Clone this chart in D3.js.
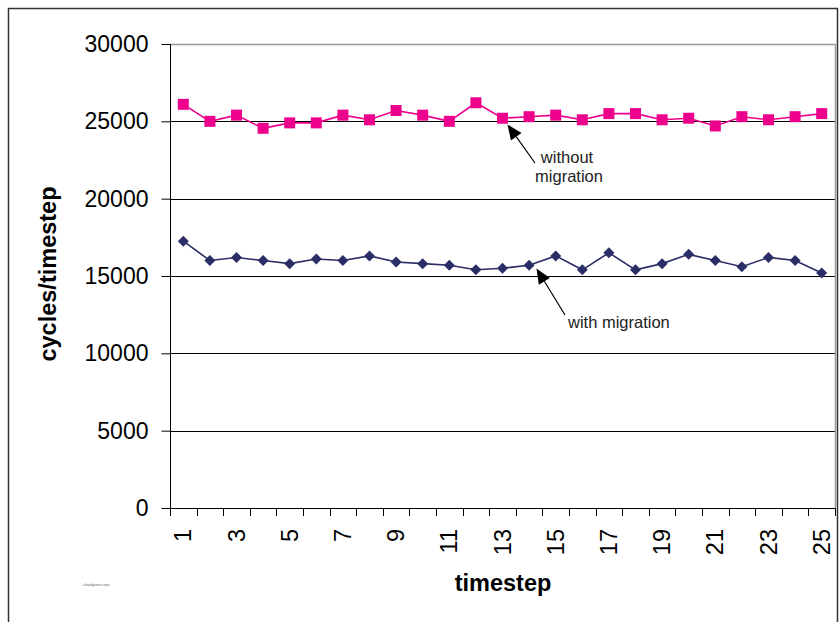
<!DOCTYPE html>
<html>
<head>
<meta charset="utf-8">
<script src="https://cdn.jsdelivr.net/npm/d3@7"></script>
<style>
  html, body { margin: 0; padding: 0; background: #fff; }
  svg { display: block; font-family: Arial, "Liberation Sans", sans-serif; }
</style>
</head>
<body>
<svg id="chart" width="840" height="622"></svg>
<script>
const timesteps = d3.range(1, 26);
const withoutMigration = [26100, 25000, 25400, 24550, 24900, 24900, 25400, 25100, 25700, 25400, 25000, 26200,
  25200, 25300, 25400, 25100, 25500, 25500, 25100, 25200, 24700, 25300, 25100, 25300, 25500];
const withMigration = [17250, 16000, 16200, 16000, 15800, 16100, 16000, 16300, 15900, 15800, 15700, 15400,
  15500, 15700, 16300, 15400, 16500, 15400, 15800, 16400, 16000, 15600, 16200, 16000, 15200];
const yTicks = [0, 5000, 10000, 15000, 20000, 25000, 30000];
const xTickLabels = [1, 3, 5, 7, 9, 11, 13, 15, 17, 19, 21, 23, 25];

const svg = d3.select("#chart");
const L = 170, R = 835, T = 44, B = 508;

const x = d3.scaleBand().domain(timesteps).range([L, R]).padding(0);
const y = d3.scaleLinear().domain([0, 30000]).range([B, T]);
const cx = d => x(d) + x.bandwidth() / 2;

// outer frame
svg.append("rect").attr("x", 8.5).attr("y", 8.5).attr("width", 829).attr("height", 640)
  .attr("fill", "none").attr("stroke", "#333").attr("stroke-width", 1.5);

// gridlines
svg.append("g").selectAll("line").data(yTicks.filter(v => v > 0 && v < 30000)).join("line")
  .attr("x1", L).attr("x2", R).attr("y1", d => Math.round(y(d)) + 0.5).attr("y2", d => Math.round(y(d)) + 0.5)
  .attr("stroke", "#000").attr("stroke-width", 1);

// top & right border (gray)
svg.append("path")
  .attr("d", `M${L},${T + 0.5}H${R + 0.5}V${B}`)
  .attr("fill", "none").attr("stroke", "#999").attr("stroke-width", 1.5);

// y axis
const yAxis = d3.axisLeft(y).tickValues(yTicks).tickSize(9).tickPadding(13).tickFormat(d3.format("d"));
const gy = svg.append("g").attr("transform", `translate(${L + 0.5},0)`).call(yAxis);
gy.select(".domain").attr("d", `M0,${T}V${B + 8}`).attr("stroke", "#000");
gy.selectAll(".tick line").attr("stroke", "#000");
gy.selectAll(".tick text").attr("font-size", 23).attr("fill", "#000")
  .attr("font-family", "Arial, 'Liberation Sans', sans-serif");

// x axis line
svg.append("line").attr("x1", L).attr("x2", R + 1).attr("y1", B + 0.5).attr("y2", B + 0.5)
  .attr("stroke", "#000").attr("stroke-width", 1);
// x tick marks at band boundaries
const boundaries = timesteps.map(d => x(d)).concat([x(25) + x.bandwidth()]);
svg.append("g").selectAll("line").data(boundaries).join("line")
  .attr("x1", d => Math.round(d) + 0.5).attr("x2", d => Math.round(d) + 0.5)
  .attr("y1", B).attr("y2", B + 8).attr("stroke", "#000");
// x labels
svg.append("g").selectAll("text").data(xTickLabels).join("text")
  .attr("transform", d => `translate(${cx(d) + 8},529) rotate(-90)`)
  .attr("text-anchor", "end").attr("font-size", 23.5).attr("fill", "#000")
  .text(d => d);

// axis titles
svg.append("text").attr("x", 503).attr("y", 591).attr("text-anchor", "middle")
  .attr("font-size", 23.5).attr("font-weight", "bold").text("timestep");
svg.append("text").attr("transform", "translate(56,274) rotate(-90)").attr("text-anchor", "middle")
  .attr("font-size", 23.5).attr("font-weight", "bold").text("cycles/timestep");

// lines
const line = d3.line().x((d, i) => cx(timesteps[i])).y(d => y(d));
svg.append("path").datum(withoutMigration).attr("d", line)
  .attr("fill", "none").attr("stroke", "#EC008C").attr("stroke-width", 1.6);
svg.append("path").datum(withMigration).attr("d", line)
  .attr("fill", "none").attr("stroke", "#2B2D66").attr("stroke-width", 1.6);

// markers
svg.append("g").selectAll("rect").data(withoutMigration).join("rect")
  .attr("x", (d, i) => cx(timesteps[i]) - 5.5).attr("y", d => y(d) - 5.5)
  .attr("width", 11).attr("height", 11).attr("fill", "#EC008C");
svg.append("g").selectAll("path").data(withMigration).join("path")
  .attr("d", (d, i) => {
    const px = cx(timesteps[i]), py = y(d), r = 5.5;
    return `M${px},${py - r}L${px + r},${py}L${px},${py + r}L${px - r},${py}Z`;
  })
  .attr("fill", "#2B2D66");

// annotations
function arrow(x1, y1, x2, y2) {
  const ang = Math.atan2(y2 - y1, x2 - x1);
  const hl = 15, hw = 6.5;
  const bx = x2 - hl * Math.cos(ang), by = y2 - hl * Math.sin(ang);
  svg.append("line").attr("x1", x1).attr("y1", y1).attr("x2", bx).attr("y2", by)
    .attr("stroke", "#000").attr("stroke-width", 1.2);
  const px = -Math.sin(ang), py = Math.cos(ang);
  svg.append("path")
    .attr("d", `M${x2},${y2}L${bx + px * hw},${by + py * hw}L${bx - px * hw},${by - py * hw}Z`)
    .attr("fill", "#000");
}
arrow(535, 163, 507.5, 124.5);
arrow(565, 315, 536.5, 268.5);

svg.append("text").attr("x", 567).attr("y", 163).attr("text-anchor", "middle")
  .attr("font-size", 16.5).attr("fill", "#222").text("without");
svg.append("text").attr("x", 569).attr("y", 182).attr("text-anchor", "middle")
  .attr("font-size", 16.5).attr("fill", "#222").text("migration");
svg.append("text").attr("x", 568).attr("y", 328).attr("text-anchor", "start")
  .attr("font-size", 16.5).attr("fill", "#222").text("with migration");

// tiny file name
svg.append("text").attr("x", 83).attr("y", 586).attr("font-size", 4).attr("fill", "#666")
  .text("cloudyiters.eps");
</script>
</body>
</html>
